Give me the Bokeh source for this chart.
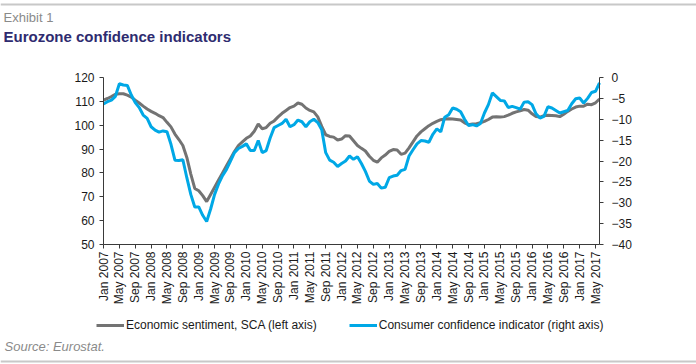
import math
from bokeh.plotting import figure
from bokeh.models import (Range1d, LinearAxis, FixedTicker, Label, Legend,
                          LegendItem, Span, ColumnDataSource)
from bokeh.embed import file_html
from bokeh.resources import INLINE

# ---------------- data ----------------
# Monthly, Jan 2007 .. Jun 2017
esi_2007 = [110.5, 111.2, 112.0, 113.0, 113.2, 113.2, 112.6, 111.8, 110.5, 109.3, 108.0, 106.8]
esi_2008 = [105.8, 105.0, 104.0, 103.2, 101.2, 99.3, 96.3, 94.0, 91.5, 86.5, 79.5, 73.5]
esi_2009 = [72.5, 70.5, 68.0, 71.0, 74.0, 77.0, 80.0, 83.0, 86.0, 89.0, 91.5, 93.0]
esi_2010 = [94.5, 95.5, 97.5, 100.5, 98.5, 99.0, 100.8, 101.8, 103.5, 105.0, 106.2, 107.4]
esi_2011 = [108.0, 109.3, 108.8, 107.2, 106.2, 105.6, 103.5, 99.5, 96.0, 95.3, 95.0, 93.8]
esi_2012 = [94.2, 95.6, 95.5, 93.5, 91.5, 90.3, 89.2, 87.0, 85.3, 84.5, 86.3, 87.5]
esi_2013 = [89.0, 89.8, 89.6, 87.8, 88.3, 90.5, 93.0, 95.5, 97.2, 98.5, 99.8, 100.8]
esi_2014 = [101.6, 102.3, 102.6, 102.7, 102.6, 102.4, 102.2, 101.0, 100.2, 100.5, 100.6, 101.0]
esi_2015 = [101.6, 102.4, 103.4, 103.5, 103.4, 103.6, 104.2, 105.0, 105.6, 106.0, 106.6, 106.3]
esi_2016 = [104.8, 103.6, 103.4, 104.0, 104.2, 104.1, 104.0, 103.6, 104.6, 105.8, 106.8, 107.6]
esi_2017 = [108.0, 108.0, 108.8, 108.6, 109.4, 111.0]

cci_2007 = [-6.3, -5.8, -5.4, -4.5, -1.5, -1.8, -1.9, -4.2, -6.0, -7.2, -9.0, -9.8]
cci_2008 = [-11.8, -12.6, -13.1, -12.8, -13.0, -16.0, -19.8, -19.9, -19.7, -24.0, -28.0, -31.0]
cci_2009 = [-31.0, -33.0, -34.5, -31.5, -28.0, -25.5, -23.5, -22.0, -20.0, -18.0, -17.0, -16.5]
cci_2010 = [-15.9, -17.5, -17.5, -15.1, -18.0, -17.5, -14.5, -12.0, -11.5, -11.0, -10.0, -11.8]
cci_2011 = [-11.3, -10.2, -10.6, -11.8, -10.6, -10.0, -10.8, -12.5, -18.0, -19.8, -20.3, -21.3]
cci_2012 = [-20.6, -20.0, -18.8, -19.6, -19.0, -20.6, -22.5, -24.8, -25.6, -25.4, -26.5, -26.3]
cci_2013 = [-24.0, -23.6, -23.4, -22.3, -22.0, -18.8, -17.3, -15.9, -15.1, -15.2, -15.5, -13.6]
cci_2014 = [-12.3, -13.0, -9.5, -8.9, -7.3, -7.6, -8.2, -10.0, -11.5, -11.3, -11.6, -11.0]
cci_2015 = [-8.5, -6.5, -3.7, -4.6, -5.5, -5.6, -7.2, -6.9, -7.2, -7.6, -5.9, -5.8]
cci_2016 = [-6.5, -8.7, -9.7, -9.3, -7.0, -7.3, -7.9, -8.5, -8.2, -7.9, -6.3, -5.1]
cci_2017 = [-4.9, -6.1, -5.0, -3.6, -3.3, -1.3]

tick_labels = ["Jan 2007", "May 2007", "Sep 2007", "Jan 2008", "May 2008", "Sep 2008",
               "Jan 2009", "May 2009", "Sep 2009", "Jan 2010", "May 2010", "Sep 2010",
               "Jan 2011", "May 2011", "Sep 2011", "Jan 2012", "May 2012", "Sep 2012",
               "Jan 2013", "May 2013", "Sep 2013", "Jan 2014", "May 2014", "Sep 2014",
               "Jan 2015", "May 2015", "Sep 2015", "Jan 2016", "May 2016", "Sep 2016",
               "Jan 2017", "May 2017"]
left_ticks = [50, 60, 70, 80, 90, 100, 110, 120]
right_ticks = [-40, -35, -30, -25, -20, -15, -10, -5, 0]

esi = (esi_2007 + esi_2008 + esi_2009 + esi_2010 + esi_2011 + esi_2012 +
       esi_2013 + esi_2014 + esi_2015 + esi_2016 + esi_2017)
cci = (cci_2007 + cci_2008 + cci_2009 + cci_2010 + cci_2011 + cci_2012 +
       cci_2013 + cci_2014 + cci_2015 + cci_2016 + cci_2017)
months = list(range(len(esi)))

# ---------------- layout (pixels) ----------------
W, H = 696, 364
PX_L, PX_R, PY_T, PY_B = 103, 599, 77, 244     # plot area box
X0, X1 = 0, 125
Y0, Y1 = 50, 120
R0, R1 = -40, 0

sxu = (PX_R - PX_L) / (X1 - X0)
syu = (PY_B - PY_T) / (Y1 - Y0)
ryu = (PY_B - PY_T) / (R1 - R0)

def dx(px):
    return X0 + (px - PX_L) / sxu

def dy(py):
    return Y1 - (py - PY_T) / syu

FONT = "Liberation Sans"
GRAY = "#737373"
BLUE = "#00a8e6"
AXIS = "#3a3a3a"

p = figure(width=W, height=H,
           x_range=Range1d(dx(0), dx(W)), y_range=Range1d(dy(H), dy(0)),
           output_backend="svg", toolbar_location=None,
           min_border=0, min_border_left=0, min_border_right=0,
           min_border_top=0, min_border_bottom=0)
p.xgrid.visible = False
p.ygrid.visible = False
p.outline_line_color = None
p.background_fill_color = "white"
p.border_fill_color = "white"

p.extra_y_ranges = {"cci": Range1d(R1 - (H - PY_T) / ryu, R1 + PY_T / ryu)}

src = ColumnDataSource(dict(m=months, esi=esi, cci=cci))
r_esi = p.line("m", "esi", source=src, line_color=GRAY, line_width=3)
r_cci = p.line("m", "cci", source=src, line_color=BLUE, line_width=3, y_range_name="cci")

def style_axis(ax):
    ax.axis_line_color = AXIS
    ax.major_tick_line_color = AXIS
    ax.major_tick_in = 0
    ax.major_tick_out = 4
    ax.minor_tick_line_color = None
    ax.major_label_text_font = FONT
    ax.major_label_text_font_size = "12px"
    ax.major_label_text_color = "#1a1a1a"

# left axis
yl = p.yaxis[0]
yl.ticker = FixedTicker(ticks=left_ticks)
yl.fixed_location = X0
yl.bounds = (Y0, Y1)
style_axis(yl)
yl.major_label_standoff = 5

# right axis
yr = LinearAxis(y_range_name="cci", ticker=FixedTicker(ticks=right_ticks),
                fixed_location=X1, bounds=(R0, R1))
style_axis(yr)
yr.major_label_standoff = 8
p.add_layout(yr, "right")

# bottom axis
xa = p.xaxis[0]
xa.ticker = FixedTicker(ticks=[4 * k for k in range(len(tick_labels))])
xa.major_label_overrides = {4 * k: lab for k, lab in enumerate(tick_labels)}
xa.major_label_orientation = math.pi / 2
xa.fixed_location = Y0
xa.bounds = (X0, X1)
style_axis(xa)
xa.major_label_standoff = 3

# legend
legend = Legend(items=[LegendItem(label="Economic sentiment, SCA (left axis)", renderers=[r_esi]),
                       LegendItem(label="Consumer confidence indicator (right axis)", renderers=[r_cci])],
                location=(96, H - 318 - 14), orientation="horizontal",
                glyph_width=28, glyph_height=14, label_height=14, label_standoff=2,
                spacing=32, padding=0, margin=0,
                border_line_color=None, background_fill_alpha=0,
                label_text_font=FONT, label_text_font_size="12px", label_text_color="#1a1a1a")
p.add_layout(legend)

# texts
p.add_layout(Label(x=dx(3), y=dy(17), text="Exhibit 1", text_font=FONT, text_font_size="13px",
                   text_color="#8a8a8a", text_baseline="middle", text_align="left"))
p.add_layout(Label(x=dx(3), y=dy(36), text="Eurozone confidence indicators", text_font=FONT,
                   text_font_size="15px", text_font_style="bold", text_color="#2e2b6f",
                   text_baseline="middle", text_align="left"))
p.add_layout(Label(x=dx(4), y=dy(346), text="Source: Eurostat.", text_font=FONT,
                   text_font_size="13px", text_font_style="italic", text_color="#8a8a8a",
                   text_baseline="middle", text_align="left"))

# separator lines
for yy in (4, 361):
    p.add_layout(Span(location=dy(yy), dimension="width", line_color="#c8c8c8", line_width=2))

open("out.html", "w").write(file_html(p, INLINE))
